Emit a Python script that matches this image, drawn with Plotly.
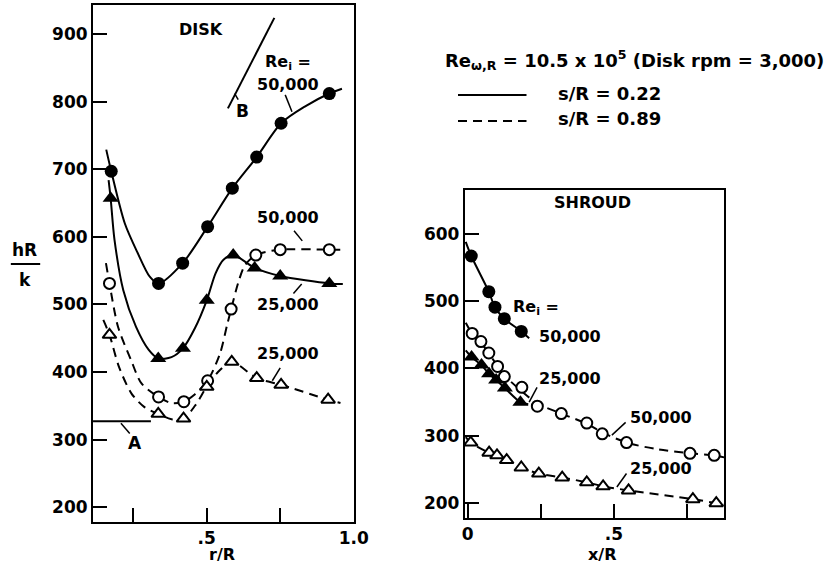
import plotly.graph_objects as go

# ---------------- DATA ----------------
# DISK panel, r/R vs hR/k
disk_s022_re50k_x = [0.175, 0.336, 0.418, 0.503, 0.587, 0.670, 0.753, 0.917]
disk_s022_re50k_y = [697, 531, 561, 615, 672, 718, 768, 812]
disk_s022_re50k_curve_x = [0.158, 0.175, 0.221, 0.265, 0.306, 0.336, 0.418, 0.503, 0.587, 0.670, 0.753, 0.835, 0.917, 0.960]
disk_s022_re50k_curve_y = [729, 697, 620, 576, 541, 531, 561, 615, 672, 718, 768, 793, 812, 819]

disk_s022_re25k_x = [0.173, 0.335, 0.419, 0.500, 0.590, 0.663, 0.750, 0.917]
disk_s022_re25k_y = [657, 420, 435, 506, 573, 554, 542, 531]
disk_s022_re25k_curve_x = [0.166, 0.173, 0.186, 0.216, 0.259, 0.302, 0.335, 0.380, 0.419, 0.460, 0.500, 0.530, 0.557, 0.590, 0.663, 0.750, 0.917, 0.963]
disk_s022_re25k_curve_y = [684, 657, 596, 521, 467, 433, 420, 422, 435, 465, 506, 546, 566, 573, 554, 542, 531, 530]

disk_s089_re50k_x = [0.169, 0.336, 0.422, 0.503, 0.583, 0.667, 0.750, 0.917]
disk_s089_re50k_y = [531, 363, 356, 387, 493, 573, 581, 581]
disk_s089_re50k_curve_x = [0.157, 0.169, 0.198, 0.242, 0.278, 0.336, 0.380, 0.422, 0.460, 0.503, 0.545, 0.570, 0.583, 0.607, 0.630, 0.667, 0.750, 0.917, 0.960]
disk_s089_re50k_curve_y = [561, 531, 467, 418, 383, 363, 354, 356, 367, 387, 427, 471, 493, 532, 558, 573, 581, 581, 581]

disk_s089_re25k_x = [0.169, 0.335, 0.421, 0.500, 0.585, 0.670, 0.753, 0.913]
disk_s089_re25k_y = [455, 338, 331, 378, 415, 391, 381, 359]
disk_s089_re25k_curve_x = [0.148, 0.169, 0.201, 0.244, 0.288, 0.335, 0.380, 0.421, 0.460, 0.500, 0.545, 0.585, 0.670, 0.753, 0.913, 0.955]
disk_s089_re25k_curve_y = [477, 455, 408, 368, 348, 338, 330, 331, 350, 378, 403, 415, 391, 381, 359, 354]

# reference lines A and B on the disk panel
line_a_x = [0.113, 0.310]
line_a_y = [327, 327]
line_b_x = [0.572, 0.730]
line_b_y = [790, 924]

# SHROUD panel, x/R vs hR/k
shroud_s022_re50k_x = [0.012, 0.072, 0.093, 0.125, 0.183]
shroud_s022_re50k_y = [567, 514, 491, 474, 455]
shroud_s022_re50k_curve_x = [-0.007, 0.012, 0.072, 0.093, 0.125, 0.183, 0.210]
shroud_s022_re50k_curve_y = [588, 567, 514, 491, 474, 455, 445]

shroud_s022_re25k_x = [0.013, 0.047, 0.073, 0.097, 0.127, 0.180]
shroud_s022_re25k_y = [417, 405, 392, 383, 371, 350]
shroud_s022_re25k_curve_x = [-0.007, 0.013, 0.047, 0.073, 0.097, 0.127, 0.180, 0.207]
shroud_s022_re25k_curve_y = [427, 417, 405, 392, 383, 371, 350, 347]

shroud_s089_re50k_x = [0.015, 0.045, 0.072, 0.102, 0.125, 0.185, 0.238, 0.320, 0.407, 0.460, 0.543, 0.760, 0.843]
shroud_s089_re50k_y = [452, 440, 423, 403, 388, 372, 344, 333, 319, 303, 290, 274, 271]
shroud_s089_re50k_curve_x = [-0.007, 0.015, 0.045, 0.072, 0.102, 0.125, 0.185, 0.238, 0.320, 0.407, 0.460, 0.543, 0.650, 0.760, 0.843, 0.877]
shroud_s089_re50k_curve_y = [468, 452, 439, 422, 404, 390, 366, 348, 333, 318, 305, 290, 280, 274, 271, 268]

shroud_s089_re25k_x = [0.010, 0.073, 0.100, 0.133, 0.183, 0.243, 0.323, 0.407, 0.463, 0.550, 0.770, 0.850]
shroud_s089_re25k_y = [290, 275, 271, 264, 253, 244, 238, 231, 225, 219, 206, 200]
shroud_s089_re25k_curve_x = [-0.007, 0.010, 0.073, 0.100, 0.133, 0.183, 0.243, 0.323, 0.407, 0.463, 0.550, 0.770, 0.850, 0.877]
shroud_s089_re25k_curve_y = [298, 290, 275, 271, 264, 253, 244, 238, 231, 225, 219, 206, 200, 198]

# tick labels
disk_x_tickvals = [0.5, 1.0]
disk_x_ticktext = [".5", "1.0"]
disk_x_minor = [0.25, 0.75]
disk_y_tickvals = [200, 300, 400, 500, 600, 700, 800, 900]
shroud_x_tickvals = [0.0, 0.5]
shroud_x_ticktext = ["0", ".5"]
shroud_x_minor = [0.25, 0.75]
shroud_y_tickvals = [200, 300, 400, 500, 600]

# ---------------- FIGURE ----------------
FONT = "DejaVu Sans"
BLACK = "black"
DASH = "9px,6px"

fig = go.Figure()


def curve(x, y, xa, ya, dashed):
    fig.add_trace(go.Scatter(
        x=x, y=y, xaxis=xa, yaxis=ya, mode="lines",
        line=dict(color=BLACK, width=2, shape="spline", smoothing=0.8,
                  dash=DASH if dashed else "solid"),
        hoverinfo="skip", showlegend=False))


def marks(x, y, xa, ya, symbol, size, filled):
    fig.add_trace(go.Scatter(
        x=x, y=y, xaxis=xa, yaxis=ya, mode="markers",
        marker=dict(symbol=symbol, size=size,
                    color=BLACK if filled else "white",
                    line=dict(color=BLACK, width=2 if not filled else 0)),
        showlegend=False))


# Disk panel
curve(disk_s022_re50k_curve_x, disk_s022_re50k_curve_y, "x", "y", False)
curve(disk_s022_re25k_curve_x, disk_s022_re25k_curve_y, "x", "y", False)
curve(disk_s089_re50k_curve_x, disk_s089_re50k_curve_y, "x", "y", True)
curve(disk_s089_re25k_curve_x, disk_s089_re25k_curve_y, "x", "y", True)
fig.add_trace(go.Scatter(x=line_a_x, y=line_a_y, xaxis="x", yaxis="y", mode="lines",
                         line=dict(color=BLACK, width=2), showlegend=False))
fig.add_trace(go.Scatter(x=line_b_x, y=line_b_y, xaxis="x", yaxis="y", mode="lines",
                         line=dict(color=BLACK, width=2), showlegend=False))
marks(disk_s022_re50k_x, disk_s022_re50k_y, "x", "y", "circle", 13, True)
marks(disk_s022_re25k_x, disk_s022_re25k_y, "x", "y", "triangle-up", 14, True)
marks(disk_s089_re50k_x, disk_s089_re50k_y, "x", "y", "circle", 11, False)
marks(disk_s089_re25k_x, disk_s089_re25k_y, "x", "y", "triangle-up", 12, False)

# Shroud panel
curve(shroud_s022_re50k_curve_x, shroud_s022_re50k_curve_y, "x2", "y2", False)
curve(shroud_s022_re25k_curve_x, shroud_s022_re25k_curve_y, "x2", "y2", False)
curve(shroud_s089_re50k_curve_x, shroud_s089_re50k_curve_y, "x2", "y2", True)
curve(shroud_s089_re25k_curve_x, shroud_s089_re25k_curve_y, "x2", "y2", True)
marks(shroud_s089_re50k_x, shroud_s089_re50k_y, "x2", "y2", "circle", 11, False)
marks(shroud_s089_re25k_x, shroud_s089_re25k_y, "x2", "y2", "triangle-up", 12, False)
marks(shroud_s022_re50k_x, shroud_s022_re50k_y, "x2", "y2", "circle", 13, True)
marks(shroud_s022_re25k_x, shroud_s022_re25k_y, "x2", "y2", "triangle-up", 14, True)

W, H = 837, 566


def px(xp):
    return xp / W


def py(yp):
    return 1 - yp / H


tickfont = dict(family=FONT, size=17, color=BLACK, weight="bold")
common = dict(showline=True, mirror=True, linecolor=BLACK, linewidth=2,
              ticks="inside", ticklen=14, tickwidth=2, tickcolor=BLACK,
              showgrid=False, zeroline=False, tickfont=tickfont, fixedrange=True)
minor_style = dict(ticks="inside", ticklen=14, tickwidth=2, tickcolor=BLACK, showgrid=False)

fig.update_layout(
    width=W, height=H,
    margin=dict(l=0, r=0, t=0, b=0),
    paper_bgcolor="white", plot_bgcolor="white",
    showlegend=False,
    xaxis=dict(domain=[px(92), px(359)], range=[0.113, 1.002],
               tickvals=disk_x_tickvals, ticktext=disk_x_ticktext, anchor="y",
               minor=dict(tickvals=disk_x_minor, **minor_style), **common),
    yaxis=dict(domain=[py(522), py(5)], range=[178, 943],
               tickvals=disk_y_tickvals, anchor="x", **common),
    xaxis2=dict(domain=[px(472), px(737)], range=[-0.01, 0.877],
                tickvals=shroud_x_tickvals, ticktext=shroud_x_ticktext, anchor="y2",
                minor=dict(tickvals=shroud_x_minor, **minor_style), **common),
    yaxis2=dict(domain=[py(518), py(190)], range=[178, 665],
                tickvals=shroud_y_tickvals, anchor="x2", **common),
)


def text(x, y, s, xref="x", yref="y", size=16, xanchor="center"):
    fig.add_annotation(x=x, y=y, xref=xref, yref=yref, text=s, showarrow=False,
                       font=dict(family=FONT, size=size, color=BLACK, weight="bold"),
                       xanchor=xanchor, yanchor="middle")


def leader(x0, y0, x1, y1, xref="x", yref="y"):
    fig.add_shape(type="line", x0=x0, y0=y0, x1=x1, y1=y1, xref=xref, yref=yref,
                  line=dict(color=BLACK, width=1.5))


# Disk panel labels
text(0.48, 907, "DISK")
text(0.62, 786, "B", size=17)
leader(0.595, 812, 0.607, 803)
text(0.775, 858, "Re<sub>i</sub> =")
text(0.775, 826, "50,000")
leader(0.767, 810, 0.790, 785)
text(0.778, 628, "50,000")
leader(0.797, 609, 0.825, 594)
text(0.778, 500, "25,000")
leader(0.795, 516, 0.823, 530)
text(0.775, 427, "25,000")
leader(0.750, 406, 0.723, 387)
text(0.257, 295, "A", size=17)
leader(0.208, 324, 0.238, 309)

# Shroud panel labels
text(0.427, 646, "SHROUD", xref="x2", yref="y2")
text(0.233, 491, "Re<sub>i</sub> =", xref="x2", yref="y2")
text(0.350, 447, "50,000", xref="x2", yref="y2")
text(0.350, 385, "25,000", xref="x2", yref="y2")
leader(0.237, 372, 0.210, 350, xref="x2", yref="y2")
text(0.660, 327, "50,000", xref="x2", yref="y2")
leader(0.540, 320, 0.493, 301, xref="x2", yref="y2")
text(0.660, 252, "25,000", xref="x2", yref="y2")
leader(0.543, 244, 0.510, 224, xref="x2", yref="y2")

# axis titles
text(px(224), py(554), "r/R", xref="paper", yref="paper", size=16)
text(px(612), py(554), "x/R", xref="paper", yref="paper", size=16)
text(px(22), py(250), "hR", xref="paper", yref="paper", size=17)
text(px(22), py(280), "k", xref="paper", yref="paper", size=17)
fig.add_shape(type="line", xref="paper", yref="paper", x0=px(8), x1=px(38), y0=py(264), y1=py(264),
              line=dict(color=BLACK, width=2))

# legend block
text(px(450), py(60), "Re<sub>ω,R</sub> = 10.5 x 10<sup>5</sup> (Disk rpm = 3,000)",
     xref="paper", yref="paper", size=18, xanchor="left")
fig.add_shape(type="line", xref="paper", yref="paper", x0=px(465), x1=px(535), y0=py(95), y1=py(95),
              line=dict(color=BLACK, width=2))
fig.add_shape(type="line", xref="paper", yref="paper", x0=px(465), x1=px(535), y0=py(121), y1=py(121),
              line=dict(color=BLACK, width=2, dash=DASH))
text(px(565), py(93), "s/R = 0.22", xref="paper", yref="paper", size=18, xanchor="left")
text(px(565), py(119), "s/R = 0.89", xref="paper", yref="paper", size=18, xanchor="left")

fig.write_html("out.html")
